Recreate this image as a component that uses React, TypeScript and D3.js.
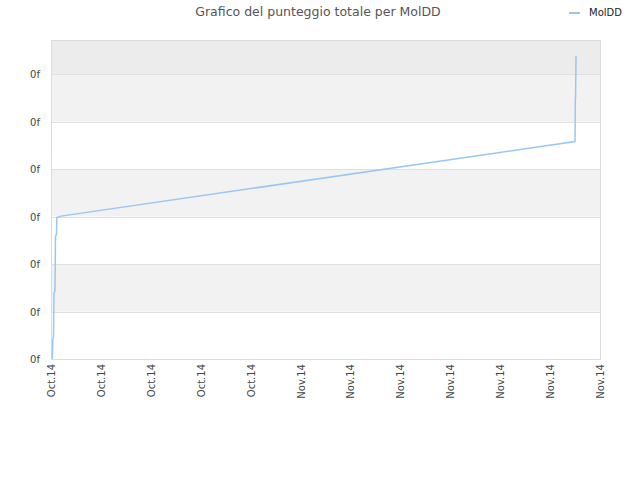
import React, { useEffect, useRef } from 'react';
import * as d3 from 'd3';

// score history of MolDD (time in days since Oct 27 2014, value in unitless score)
const dayOffsets = [0.026, 0.036, 0.05, 0.06, 0.08, 0.09, 0.11, 0.116, 0.2, 10.5, 10.506, 10.51, 10.52];
const scores = [0.0, 0.4, 0.48, 1.37, 1.45, 2.58, 2.63, 2.98, 3.01, 4.58, 5.48, 5.5, 6.39];
const yTickValues = [0, 1, 2, 3, 4, 5, 6];
const yTickLabels = ['0f', '0f', '0f', '0f', '0f', '0f', '0f'];
const seriesName = 'MolDD';
const title = 'Grafico del punteggio totale per MolDD';

const startDate = new Date(Date.UTC(2014, 9, 27));
const endDate = new Date(Date.UTC(2014, 10, 7));

const W = 640, H = 480;
const M = { left: 51, right: 600, top: 40, bottom: 359 };
const FONT = '"DejaVu Sans", Verdana, sans-serif';

const App = () => {
  const svgRef = useRef<SVGSVGElement>(null);

  useEffect(() => {
    if (!svgRef.current) return;
    const svg = d3.select(svgRef.current);
    svg.selectAll('*').remove();

    const x = d3.scaleUtc().domain([startDate, endDate]).range([M.left, M.right]);
    const y = d3.scaleLinear().domain([0, 6.72]).range([M.bottom, M.top]);

    const data = dayOffsets.map((d, i) => ({
      t: new Date(startDate.getTime() + d * 86400000),
      v: scores[i],
    }));

    // alternating bands
    const bands = svg.append('g');
    yTickValues.forEach((v, i) => {
      const top = i + 1 < yTickValues.length ? y(yTickValues[i + 1]) : M.top;
      const fill = i === yTickValues.length - 1 ? '#ececec' : i % 2 === 1 ? '#f2f2f2' : '#ffffff';
      bands.append('rect')
        .attr('x', M.left).attr('y', top)
        .attr('width', M.right - M.left).attr('height', y(v) - top)
        .attr('fill', fill);
    });

    // gridlines
    svg.append('g').selectAll('line')
      .data(yTickValues)
      .enter().append('line')
      .attr('x1', M.left).attr('x2', M.right)
      .attr('y1', d => Math.round(y(d)) + 0.5).attr('y2', d => Math.round(y(d)) + 0.5)
      .attr('stroke', '#e0e0e0');

    // frame
    svg.append('rect')
      .attr('x', M.left + 0.5).attr('y', M.top + 0.5)
      .attr('width', M.right - M.left).attr('height', M.bottom - M.top)
      .attr('fill', 'none').attr('stroke', '#dcdcdc');

    // y labels
    svg.append('g').selectAll('text')
      .data(yTickValues)
      .enter().append('text')
      .attr('x', 40).attr('y', d => y(d) + 4)
      .attr('text-anchor', 'end')
      .attr('font-family', FONT).attr('font-size', 10)
      .attr('fill', '#444')
      .text((d, i) => yTickLabels[i]);

    // x labels
    const fmt = d3.utcFormat('%b.%y');
    svg.append('g').selectAll('text')
      .data(d3.utcDay.range(startDate, d3.utcDay.offset(endDate, 1)))
      .enter().append('text')
      .attr('transform', d => `translate(${x(d) + 4},${M.bottom + 5}) rotate(-90)`)
      .attr('text-anchor', 'end')
      .attr('font-family', FONT).attr('font-size', 10)
      .attr('fill', '#444')
      .text(d => fmt(d));

    // series line
    const line = d3.line<{ t: Date, v: number }>()
      .x(d => x(d.t))
      .y(d => y(d.v));
    svg.append('path')
      .datum(data)
      .attr('d', line)
      .attr('fill', 'none')
      .attr('stroke', '#99c7f3')
      .attr('stroke-width', 1.5);

    // title
    svg.append('text')
      .attr('x', 318).attr('y', 16)
      .attr('text-anchor', 'middle')
      .attr('font-family', FONT).attr('font-size', 12.5)
      .attr('fill', '#555')
      .text(title);

    // legend
    svg.append('line')
      .attr('x1', 569).attr('x2', 580).attr('y1', 13).attr('y2', 13)
      .attr('stroke', '#99c7f3').attr('stroke-width', 2);
    svg.append('text')
      .attr('x', 589).attr('y', 16)
      .attr('font-family', FONT).attr('font-size', 10)
      .attr('fill', '#222')
      .text(seriesName);
  }, []);

  return (
    <svg ref={svgRef} width={W} height={H}
      style={{ position: 'absolute', left: 0, top: 0, background: '#fff' }} />
  );
};

export default App;
